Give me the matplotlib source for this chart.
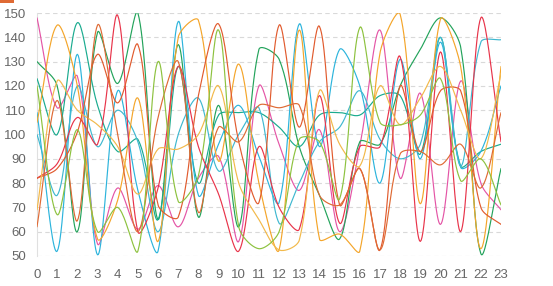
import numpy as np
import matplotlib
matplotlib.use("Agg")
import matplotlib.pyplot as plt
from matplotlib.patches import Rectangle

plt.rcParams['font.family'] = ['Liberation Sans', 'DejaVu Sans']

hours = list(range(24))
y_ticks = [50, 60, 70, 80, 90, 100, 110, 120, 130, 140, 150]

pink = [148, 111, 124, 55, 78, 61, 79, 62, 82, 91, 56, 120, 96, 77, 102, 60, 95, 143, 82, 117, 63, 122, 80, 69]
dark_green = [130, 120, 60, 142, 121, 150, 65, 137, 66, 112, 62, 135, 131, 95, 75, 57, 97, 96, 120, 135, 148, 136, 51, 86]
teal = [123, 100, 146, 112, 93, 98, 65, 128, 80, 108, 109, 109, 103, 95, 108, 109, 108, 116, 116, 92, 140, 87, 93, 96]
cyan = [109, 52, 133, 50.5, 118, 77, 52, 146.5, 75, 96, 112, 91, 72, 145.5, 95, 135, 120, 80, 131, 90, 138, 86.5, 93, 120]
cyan2 = [100, 75, 120, 95, 110, 97, 60, 100, 115, 85, 100, 111, 63.5, 80, 97, 103, 118, 98, 90, 96, 140, 87, 138, 139]
orange = [105, 145, 120, 57, 73, 115, 56, 140, 147, 89, 129, 80, 52.5, 143, 57, 59, 52, 133.5, 149.5, 71.5, 147.5, 128, 53, 128]
red = [82, 88, 107, 96, 149, 60, 78, 128, 95, 75.5, 52, 95, 70, 61, 116, 63.5, 95, 95, 132, 56, 134, 60, 148, 97]
red_orange = [82, 86, 101, 133, 113, 137, 71, 66, 116, 145.5, 97, 72, 145, 103, 144.5, 71, 86, 52.5, 120, 93, 118, 118, 70, 63]
gold = [69, 122, 110, 104, 95, 75.5, 94, 94, 100, 120, 80, 65, 52.5, 56.5, 118, 96, 87, 120, 104, 115, 128, 110, 90, 125]
burnt = [62, 114, 64.5, 145, 100, 60, 107, 130, 68, 103, 97, 112, 111, 112, 75, 71, 86, 52.5, 92, 93, 87.5, 96, 78, 109]
lime = [120, 67, 102, 60, 70, 52, 130, 72.5, 83, 143, 62, 53, 60, 98, 97, 73.5, 144, 105, 104, 108, 123, 81, 90, 71]

series = [
    (pink, "#e455a6"),
    (dark_green, "#23a35b"),
    (teal, "#1aab8f"),
    (cyan, "#2cb4dc"),
    (cyan2, "#3fb8d0"),
    (orange, "#f4a52a"),
    (red, "#e8344a"),
    (red_orange, "#e15b2e"),
    (gold, "#f2b94a"),
    (burnt, "#df6a34"),
    (lime, "#8dc23f"),
]

SX, SY = 20.17, 2.43  # pixel scale used for spline tension distances
TENSION = 0.32


def smooth(xs, ys, n=24):
    xs = np.asarray(xs, float)
    ys = np.asarray(ys, float)
    px, py = xs * SX, ys * SY
    m = len(xs)
    c1 = np.zeros((m, 2))
    c2 = np.zeros((m, 2))
    for i in range(m):
        p = np.array([px[max(i - 1, 0)], py[max(i - 1, 0)]])
        c = np.array([px[i], py[i]])
        nx = np.array([px[min(i + 1, m - 1)], py[min(i + 1, m - 1)]])
        d01 = np.hypot(*(c - p))
        d12 = np.hypot(*(nx - c))
        s = d01 + d12
        fa = TENSION * d01 / s if s else 0
        fb = TENSION * d12 / s if s else 0
        c1[i] = c - fa * (nx - p)
        c2[i] = c + fb * (nx - p)
    outx, outy = [], []
    t = np.linspace(0, 1, n)
    for i in range(m - 1):
        P0 = np.array([px[i], py[i]])
        P1 = c2[i]
        P2 = c1[i + 1]
        P3 = np.array([px[i + 1], py[i + 1]])
        b = ((1 - t) ** 3)[:, None] * P0 + (3 * (1 - t) ** 2 * t)[:, None] * P1 \
            + (3 * (1 - t) * t ** 2)[:, None] * P2 + (t ** 3)[:, None] * P3
        outx.extend(b[:, 0] / SX)
        outy.extend(b[:, 1] / SY)
    return np.array(outx), np.array(outy)


fig = plt.figure(figsize=(5.53, 2.86), dpi=100)
ax = fig.add_axes([37 / 553, 30 / 286, 464 / 553, 243 / 286])

for vals, col in series:
    sx, sy = smooth(hours, vals)
    ax.plot(sx, sy, color=col, lw=0.85, solid_capstyle="round", zorder=3)

ax.set_xlim(0, 23)
ax.set_ylim(50, 150)
ax.set_xticks(hours)
ax.set_xticklabels([str(h) for h in hours])
ax.set_yticks(y_ticks)
for yv in y_ticks:
    ax.axhline(yv, color="#d9d9d9", lw=0.8, ls=(0, (4, 3)), zorder=1)
for s in ["top", "right", "bottom"]:
    ax.spines[s].set_visible(False)
ax.spines["left"].set_color("#e0e0e0")
ax.spines["left"].set_linewidth(0.8)
ax.tick_params(axis="both", length=0, labelsize=9.5, colors="#666666")
ax.tick_params(axis="x", pad=9)
ax.tick_params(axis="y", pad=8)

# partially visible legend at top
fig.patches.append(Rectangle((0, 283 / 286), 14 / 553, 4 / 286, transform=fig.transFigure,
                             facecolor="#df6a34", edgecolor="none"))

fig.savefig("out.png", dpi=100)
